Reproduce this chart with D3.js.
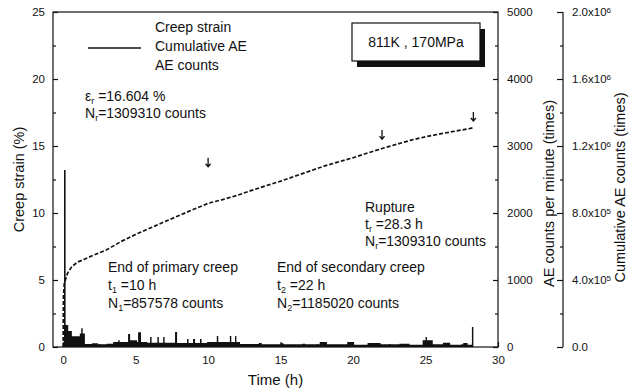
<!DOCTYPE html>
<html><head><meta charset="utf-8">
<script src="https://cdn.jsdelivr.net/npm/d3@7"></script>
<style>
body{margin:0;background:#fff;}
svg{display:block;font-family:"Liberation Sans",Arial,sans-serif;}
</style></head><body>
<svg id="chart" width="629" height="392"></svg>
<script>
// Axis ticks
const timeTicks = [0, 5, 10, 15, 20, 25, 30];
const timeMinor = [2.5, 7.5, 12.5, 17.5, 22.5, 27.5];
const strainTicks = [0, 5, 10, 15, 20, 25];
const strainMinor = [2.5, 7.5, 12.5, 17.5, 22.5];
const countTicks = [0, 1000, 2000, 3000, 4000, 5000];
const countMinor = [500, 1500, 2500, 3500, 4500];
const cumTicks = [0, 4e5, 8e5, 1.2e6, 1.6e6, 2.0e6];
const cumMinor = [2e5, 6e5, 1.0e6, 1.4e6, 1.8e6];

// Cumulative AE counts against time (h)
const cumTime = [0, 0.02, 0.08, 0.3, 0.6, 1, 1.5, 2, 3, 4, 5, 6, 7, 8, 9, 10, 11, 12, 13, 14,
  15, 16, 17, 18, 19, 20, 21, 22, 23, 24, 25, 26, 27, 28, 28.3];
const cumCounts = [0, 300000, 380000, 440000, 480000, 507000, 525000, 545000, 580000, 630000,
  672000, 710000, 748000, 785000, 822000, 857578, 880000, 905000, 935000, 963000,
  990000, 1020000, 1050000, 1080000, 1105000, 1130000, 1158000, 1185020, 1210000, 1235000,
  1255000, 1272000, 1288000, 1303000, 1309310];

// AE counts per minute, stepped: each value holds from its start time to the next one
const aeTime = [0.06, 0.17, 0.35, 0.6, 1.15, 1.25, 1.35, 1.5, 2.0, 2.4, 3.0, 3.45, 3.8, 3.9,
  4.48, 4.62, 5.1, 5.17, 5.37, 5.8, 6.0, 6.1, 6.5, 6.6, 6.9, 7.0, 7.72, 7.86, 8.55, 8.65,
  8.96, 9.1, 9.44, 9.55, 9.93, 10.6, 10.7, 11.5, 11.6, 11.86, 11.95, 12.2, 13.5, 13.7,
  15.0, 15.2, 16.5, 16.7, 17.7, 18.2, 19.6, 20.0, 21.0, 21.9, 23.2, 23.9, 24.8, 25.0,
  25.1, 25.5, 26.2, 26.7, 27.6, 27.9, 28.2, 28.3];
const aeCounts = [2640, 330, 240, 160, 200, 280, 200, 45, 55, 40, 50, 75, 100, 75,
  195, 100, 75, 220, 75, 65, 150, 65, 150, 65, 150, 65, 225, 60, 120, 60,
  120, 60, 120, 60, 75, 165, 75, 165, 75, 165, 75, 45, 60, 40,
  55, 40, 50, 40, 75, 40, 75, 35, 60, 40, 50, 35, 100, 150,
  100, 40, 65, 35, 60, 35, 300, 0];

// Stage markers: end of primary creep, end of secondary creep, rupture
const eventTime = [10, 22, 28.3];
const eventLevel = [1.10e6, 1.265e6, 1.373e6];

const legendLabels = ["Creep strain", "Cumulative AE", "AE counts"];
const conditionLabel = "811K , 170MPa";

const svg = d3.select("#chart");
const L = 53, R = 498, T = 12, B = 347, R2 = 563;

const x = d3.scaleLinear().domain([-0.7, 30]).range([L, R]);
const yStrain = d3.scaleLinear().domain([0, 25]).range([B, T]);
const yCount = d3.scaleLinear().domain([0, 5000]).range([B, T]);
const yCum = d3.scaleLinear().domain([0, 2e6]).range([B, T]);

const ink = "#111";

// AE counts (stepped black area)
const aeData = aeTime.map((t, i) => ({t, n: aeCounts[i]}));
svg.append("path")
  .datum(aeData)
  .attr("fill", ink)
  .attr("d", d3.area().curve(d3.curveStepAfter)
    .x(d => x(d.t)).y0(yCount(0)).y1(d => yCount(d.n)));

// Cumulative AE counts
const cumData = cumTime.map((t, i) => ({t, n: cumCounts[i]}));
svg.append("path")
  .datum(cumData)
  .attr("fill", "none")
  .attr("stroke", ink)
  .attr("stroke-width", 1.7)
  .attr("stroke-dasharray", "4,2")
  .attr("d", d3.line().x(d => x(d.t)).y(d => yCum(d.n)));

// Stage markers (small downward arrows)
eventTime.forEach((t, i) => {
  const cx = x(t), cy = yCum(eventLevel[i]);
  svg.append("path")
    .attr("d", `M${cx},${cy - 5}V${cy + 4}M${cx - 2.5},${cy + 1}L${cx},${cy + 4}L${cx + 2.5},${cy + 1}`)
    .attr("stroke", ink).attr("stroke-width", 1.3).attr("fill", "none");
});

// Frame
svg.append("rect").attr("x", L).attr("y", T).attr("width", R - L).attr("height", B - T)
  .attr("fill", "none").attr("stroke", ink).attr("stroke-width", 1.2);

function styleAxis(g) {
  g.select(".domain").remove();
  g.selectAll(".tick line").attr("stroke", ink).attr("stroke-width", 1.2);
  g.selectAll(".tick text").attr("fill", ink).style("font-size", "11.5px")
    .style("font-family", "Liberation Sans, Arial, sans-serif");
}

// Bottom axis
svg.append("g").attr("transform", `translate(0,${B})`)
  .call(d3.axisBottom(x).tickValues(timeTicks).tickSize(-5).tickSizeOuter(0).tickPadding(9))
  .call(styleAxis);
svg.append("g").attr("transform", `translate(0,${B})`)
  .call(d3.axisBottom(x).tickValues(timeMinor).tickSize(-3).tickSizeOuter(0).tickFormat(""))
  .call(styleAxis);

// Left axis: creep strain
svg.append("g").attr("transform", `translate(${L},0)`)
  .call(d3.axisLeft(yStrain).tickValues(strainTicks).tickSize(-5).tickSizeOuter(0).tickPadding(8))
  .call(styleAxis);
svg.append("g").attr("transform", `translate(${L},0)`)
  .call(d3.axisLeft(yStrain).tickValues(strainMinor).tickSize(-3).tickSizeOuter(0).tickFormat(""))
  .call(styleAxis);

// Right axis 1: AE counts
svg.append("g").attr("transform", `translate(${R},0)`)
  .call(d3.axisRight(yCount).tickValues(countTicks).tickSize(-5).tickSizeOuter(0).tickPadding(9)
    .tickFormat(d3.format("d")))
  .call(styleAxis);
svg.append("g").attr("transform", `translate(${R},0)`)
  .call(d3.axisRight(yCount).tickValues(countMinor).tickSize(-3).tickSizeOuter(0).tickFormat(""))
  .call(styleAxis);

// Right axis 2: cumulative AE counts
svg.append("line").attr("x1", R2).attr("x2", R2).attr("y1", T).attr("y2", B)
  .attr("stroke", ink).attr("stroke-width", 1.2);
const ax2 = svg.append("g").attr("transform", `translate(${R2},0)`)
  .call(d3.axisRight(yCum).tickValues(cumTicks).tickSize(-6).tickSizeOuter(0).tickPadding(9)
    .tickFormat(""))
  .call(styleAxis);
ax2.selectAll(".tick text").each(function(d) {
  const t = d3.select(this);
  if (d === 0) { t.text("0.0"); return; }
  const e = Math.floor(Math.log10(d));
  const m = d / Math.pow(10, e);
  t.append("tspan").text(m.toFixed(1) + "x10");
  t.append("tspan").attr("dy", "-0.4em").style("font-size", "8px").text(e);
});
svg.append("g").attr("transform", `translate(${R2},0)`)
  .call(d3.axisRight(yCum).tickValues(cumMinor).tickSize(-3).tickSizeOuter(0).tickFormat(""))
  .call(styleAxis);

// Axis titles
const titleFont = "14.5px";
svg.append("text").attr("x", (L + R) / 2).attr("y", 385).attr("text-anchor", "middle")
  .style("font-size", "15px").attr("fill", ink).text("Time (h)");
svg.append("text").attr("transform", `translate(24,${(T + B) / 2}) rotate(-90)`)
  .attr("text-anchor", "middle").style("font-size", titleFont).attr("fill", ink)
  .text("Creep strain (%)");
svg.append("text").attr("transform", `translate(554,${(T + B) / 2 + 14}) rotate(-90)`)
  .attr("text-anchor", "middle").style("font-size", titleFont).attr("fill", ink)
  .text("AE counts per minute (times)");
svg.append("text").attr("transform", `translate(625,${(T + B) / 2 + 8}) rotate(-90)`)
  .attr("text-anchor", "middle").style("font-size", titleFont).attr("fill", ink)
  .text("Cumulative AE counts (times)");

// Legend
const legendY = [32, 51, 70];
legendLabels.forEach((s, i) => {
  svg.append("text").attr("x", 155).attr("y", legendY[i]).style("font-size", "14px")
    .attr("fill", ink).text(s);
});
svg.append("line").attr("x1", 88).attr("x2", 141).attr("y1", 48).attr("y2", 48)
  .attr("stroke", ink).attr("stroke-width", 1.5);

// Test condition box with drop shadow
svg.append("rect").attr("x", 357).attr("y", 29).attr("width", 128).attr("height", 38).attr("fill", ink);
svg.append("rect").attr("x", 352).attr("y", 23).attr("width", 128).attr("height", 38)
  .attr("fill", "#fff").attr("stroke", ink).attr("stroke-width", 1.2);
svg.append("text").attr("x", 416).attr("y", 47).attr("text-anchor", "middle")
  .style("font-size", "14px").attr("fill", ink).text(conditionLabel);

// Annotations: each line is a list of [text, isSubscript] pieces
function note(x0, ys, lines) {
  lines.forEach((parts, i) => {
    const t = svg.append("text").attr("x", x0).attr("y", ys[i])
      .style("font-size", "14px").attr("fill", ink);
    let shifted = false;
    parts.forEach(([s, sub]) => {
      const ts = t.append("tspan").text(s);
      if (sub) { ts.style("font-size", "9px").attr("dy", 2.5); shifted = true; }
      else if (shifted) { ts.attr("dy", -2.5); shifted = false; }
    });
  });
}
note(85, [101, 118], [
  [["ε", 0], ["r", 1], [" =16.604 %", 0]],
  [["N", 0], ["r", 1], ["=1309310 counts", 0]]
]);
note(108, [272, 290, 308], [
  [["End of primary creep", 0]],
  [["t", 0], ["1", 1], [" =10 h", 0]],
  [["N", 0], ["1", 1], ["=857578 counts", 0]]
]);
note(277, [272, 290, 308], [
  [["End of secondary creep", 0]],
  [["t", 0], ["2", 1], [" =22 h", 0]],
  [["N", 0], ["2", 1], ["=1185020 counts", 0]]
]);
note(365, [212, 229, 246], [
  [["Rupture", 0]],
  [["t", 0], ["r", 1], [" =28.3 h", 0]],
  [["N", 0], ["r", 1], ["=1309310 counts", 0]]
]);
</script>
</body></html>
